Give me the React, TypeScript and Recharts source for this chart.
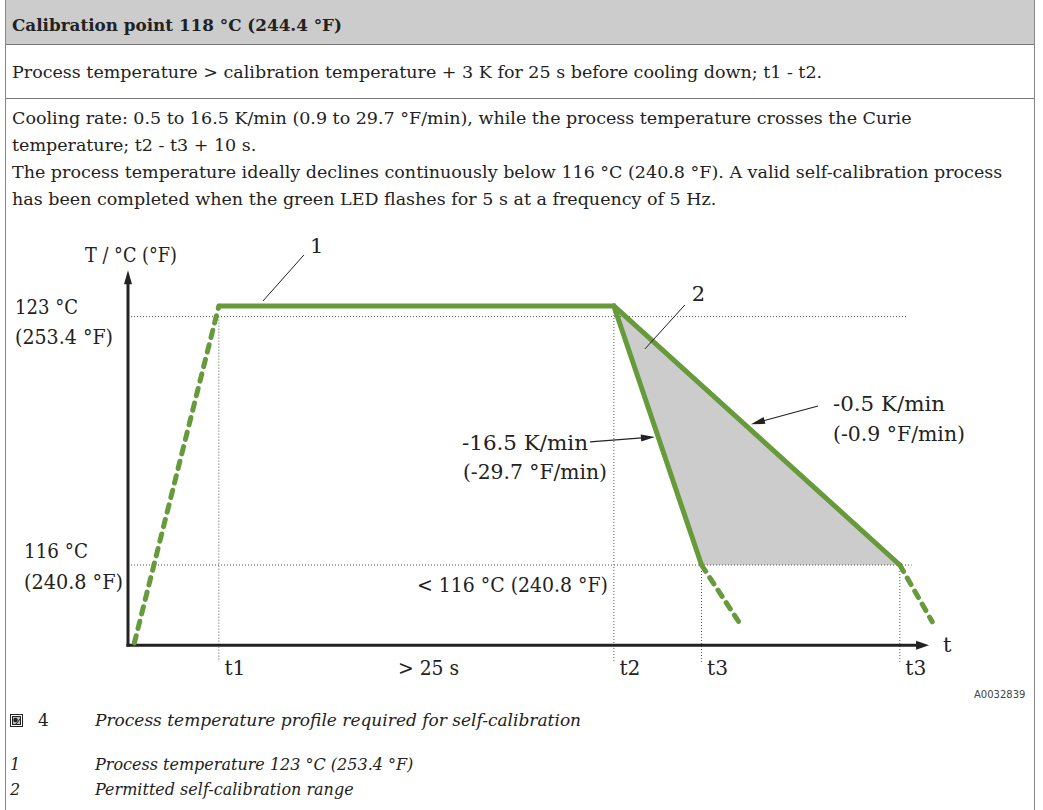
import React from 'react';
import { ComposedChart, Line, Area, XAxis, YAxis, ReferenceLine, ReferenceDot } from 'recharts';

const GREEN = '#669a3a';
const INK = '#222';
const DOT = '#555';
const SERIF = '"DejaVu Serif", "Liberation Serif", serif';

// time in s (arbitrary origin at the T axis), temperature in °C
const heatUp = [{ t: 0.4, T: 113.8 }, { t: 5.75, T: 123.3 }];
const holdThenFast = [{ t: 5.75, T: 123.3 }, { t: 30.75, T: 123.3 }, { t: 36.3, T: 116 }];
const slowCool = [{ t: 30.75, T: 123.3 }, { t: 48.85, T: 116 }];
const fastAfter = [{ t: 36.3, T: 116 }, { t: 38.8, T: 114.3 }];
const slowAfter = [{ t: 48.85, T: 116 }, { t: 50.9, T: 114.4 }];
const permitted = [
  { t: 30.75, band: [123.3, 123.3] },
  { t: 36.3, band: [116, 121.06] },
  { t: 48.85, band: [116, 116] },
];

const axisT = 113.74;
const axisTop = 124.31;
const axisEnd = 50.7;

const levels = [
  { T: 123, to: 49.35 },
  { T: 116, to: 49.6 },
];
const marks = [
  { name: 't1', t: 5.75, from: 123 },
  { name: 't2', t: 30.75, from: 123.3 },
  { name: 't3', t: 36.3, from: 116 },
  { name: 't3', t: 48.85, from: 116 },
];
const markBottom = 113.27;
const markLabelT = 113.1;

const notes = [
  { text: 'T / °C (°F)', t: -2.72, T: 124.74, w: 92 },
  { text: '123 °C', t: -7.15, T: 123.26, w: 63 },
  { text: '(253.4 °F)', t: -7.15, T: 122.43, w: 98 },
  { text: '116 °C', t: -6.58, T: 116.39, w: 64 },
  { text: '(240.8 °F)', t: -6.58, T: 115.52, w: 99 },
  { text: '1', t: 11.52, T: 125.0 },
  { text: '2', t: 35.68, T: 123.65 },
  { text: '< 116 °C (240.8 °F)', t: 18.29, T: 115.44, w: 191 },
  { text: '-16.5 K/min', t: 21.14, T: 119.44, w: 126 },
  { text: '(-29.7 °F/min)', t: 21.2, T: 118.62, w: 144 },
  { text: '-0.5 K/min', t: 44.62, T: 120.54, w: 112 },
  { text: '(-0.9 °F/min)', t: 44.62, T: 119.69, w: 132 },
  { text: '> 25 s', t: 17.09, T: markLabelT, w: 61 },
  { text: 't', t: 51.58, T: axisT },
];

const leaders = [
  { from: { t: 11.14, T: 124.74 }, to: { t: 8.54, T: 123.44 } },
  { from: { t: 35.25, T: 123.33 }, to: { t: 32.72, T: 122.09 } },
];
const pointers = [
  { from: { t: 29.24, T: 119.47 }, to: { t: 33.35, T: 119.61 } },
  { from: { t: 43.67, T: 120.48 }, to: { t: 39.43, T: 119.97 } },
];

const bodyLines = [
  'Cooling rate: 0.5 to 16.5 K/min (0.9 to 29.7 °F/min), while the process temperature crosses the Curie',
  'temperature; t2 - t3 + 10 s.',
  'The process temperature ideally declines continuously below 116 °C (240.8 °F). A valid self-calibration process',
  'has been completed when the green LED flashes for 5 s at a frequency of 5 Hz.',
];
const legendItems = [
  { key: '1', text: 'Process temperature 123 °C (253.4 °F)' },
  { key: '2', text: 'Permitted self-calibration range' },
];

const arrow = (width: number, len: number, half: number, cap: 'butt' | 'square') => (p: any) => {
  const { x1, y1, x2, y2 } = p;
  const a = Math.atan2(y2 - y1, x2 - x1);
  const c = Math.cos(a);
  const s = Math.sin(a);
  const bx = x2 - len * c;
  const by = y2 - len * s;
  const pts = `${x2},${y2} ${bx - half * s},${by + half * c} ${bx + half * s},${by - half * c}`;
  return (
    <g>
      <line x1={x1} y1={y1} x2={bx + c} y2={by + s} stroke={INK} strokeWidth={width} strokeLinecap={cap} />
      <polygon points={pts} fill={INK} />
    </g>
  );
};

const note = (text: string, w?: number) => (p: any) => (
  <text
    x={p.cx}
    y={p.cy}
    dominantBaseline="central"
    fontSize={21}
    fontFamily={SERIF}
    fill={INK}
    textLength={w}
    lengthAdjust={w ? 'spacingAndGlyphs' : undefined}
  >
    {text}
  </text>
);

function Profile() {
  return (
    <ComposedChart width={1043} height={450} margin={{ top: 5, right: 61.8, bottom: 5, left: 1.6 }}>
      <XAxis type="number" dataKey="t" domain={[-8, 54]} hide allowDataOverflow />
      <YAxis type="number" domain={[112.9, 125.3]} hide allowDataOverflow />

      <Area data={permitted} dataKey="band" type="linear" fill="#cccccc" fillOpacity={1} stroke="none" isAnimationActive={false} />

      {levels.map(l => (
        <ReferenceLine key={l.T} segment={[{ x: 0, y: l.T }, { x: l.to, y: l.T }]} stroke={DOT} strokeWidth={1} strokeDasharray="1 2" ifOverflow="visible" />
      ))}
      {marks.map(m => (
        <ReferenceLine key={m.t} segment={[{ x: m.t, y: m.from }, { x: m.t, y: markBottom }]} stroke={DOT} strokeWidth={1} strokeDasharray="1 2" ifOverflow="visible" />
      ))}

      <ReferenceLine segment={[{ x: 0, y: axisT }, { x: 0, y: axisTop }]} ifOverflow="visible" shape={arrow(3, 14, 4, 'square')} />
      <ReferenceLine segment={[{ x: 0, y: axisT }, { x: axisEnd, y: axisT }]} ifOverflow="visible" shape={arrow(3, 13, 4.5, 'square')} />

      <Line data={heatUp} dataKey="T" type="linear" stroke={GREEN} strokeWidth={5} strokeDasharray="7.5 7.5" strokeLinecap="round" dot={false} isAnimationActive={false} />
      <Line data={holdThenFast} dataKey="T" type="linear" stroke={GREEN} strokeWidth={5} strokeLinejoin="miter" dot={false} isAnimationActive={false} />
      <Line data={slowCool} dataKey="T" type="linear" stroke={GREEN} strokeWidth={5} strokeLinecap="round" dot={false} isAnimationActive={false} />
      <Line data={fastAfter} dataKey="T" type="linear" stroke={GREEN} strokeWidth={5} strokeDasharray="7.5 7.5" strokeLinecap="round" dot={false} isAnimationActive={false} />
      <Line data={slowAfter} dataKey="T" type="linear" stroke={GREEN} strokeWidth={5} strokeDasharray="7.5 7.5" strokeLinecap="round" dot={false} isAnimationActive={false} />

      {leaders.map((l, i) => (
        <ReferenceLine key={'ld' + i} segment={[{ x: l.from.t, y: l.from.T }, { x: l.to.t, y: l.to.T }]} stroke={INK} strokeWidth={1} ifOverflow="visible" />
      ))}
      {pointers.map((l, i) => (
        <ReferenceLine key={'pt' + i} segment={[{ x: l.from.t, y: l.from.T }, { x: l.to.t, y: l.to.T }]} ifOverflow="visible" shape={arrow(1.2, 14, 3.5, 'butt')} />
      ))}

      {notes.map((n, i) => (
        <ReferenceDot key={'n' + i} x={n.t} y={n.T} r={0} ifOverflow="visible" shape={note(n.text, n.w)} />
      ))}
      {marks.map((m, i) => (
        <ReferenceDot key={'m' + i} x={m.t + 0.35} y={markLabelT} r={0} ifOverflow="visible" shape={note(m.name, 21)} />
      ))}
    </ComposedChart>
  );
}

const line = (top: number, extra: React.CSSProperties = {}): React.CSSProperties => ({
  position: 'absolute', left: 12, top: top - 10, lineHeight: '20px', whiteSpace: 'nowrap', ...extra,
});

export default function App() {
  return (
    <div style={{ position: 'absolute', left: 0, top: 0, width: 1043, height: 810, background: '#fff', color: INK, fontFamily: SERIF, fontSize: 17.5, overflow: 'hidden' }}>
      <div style={{ position: 'absolute', left: 6, top: 0, width: 1028, height: 44, background: '#cccccc', borderBottom: '1px solid #777' }} />
      <div style={{ position: 'absolute', left: 6, top: 98, width: 1028, height: 0, borderBottom: '1px solid #777' }} />
      <div style={{ position: 'absolute', left: 5, top: 0, width: 1, height: 810, background: '#888' }} />
      <div style={{ position: 'absolute', left: 1034, top: 0, width: 1, height: 810, background: '#888' }} />

      <div style={line(25, { fontWeight: 'bold', fontSize: 16.8 })}>Calibration point 118 °C (244.4 °F)</div>
      <div style={line(72)}>Process temperature &gt; calibration temperature + 3 K for 25 s before cooling down; t1 - t2.</div>
      {bodyLines.map((t, i) => (
        <div key={i} style={line(118 + i * 27)}>{t}</div>
      ))}

      <div style={{ position: 'absolute', left: 0, top: 230 }}>
        <Profile />
      </div>

      <div style={{ position: 'absolute', left: 974, top: 689, fontFamily: '"DejaVu Sans", sans-serif', fontSize: 10, color: '#444', lineHeight: '12px' }}>A0032839</div>

      <svg style={{ position: 'absolute', left: 10, top: 714 }} width={13} height={13}>
        <rect x={0.5} y={0.5} width={12} height={12} fill="#fff" stroke={INK} />
        <rect x={2.5} y={2.5} width={8} height={8} fill="#bbb" stroke={INK} />
        <circle cx={5.5} cy={6} r={2.2} fill={INK} />
        <line x1={6} y1={10} x2={10} y2={5} stroke={INK} />
      </svg>
      <div style={{ position: 'absolute', left: 38, top: 710, lineHeight: '20px', fontSize: 17 }}>4</div>
      <div style={{ position: 'absolute', left: 95, top: 710, lineHeight: '20px', fontSize: 17, fontStyle: 'italic', whiteSpace: 'nowrap' }}>
        Process temperature profile required for self-calibration
      </div>
      {legendItems.map((it, i) => (
        <React.Fragment key={it.key}>
          <div style={{ position: 'absolute', left: 10, top: 755 + i * 25, lineHeight: '20px', fontSize: 16, fontStyle: 'italic' }}>{it.key}</div>
          <div style={{ position: 'absolute', left: 95, top: 755 + i * 25, lineHeight: '20px', fontSize: 16, fontStyle: 'italic', whiteSpace: 'nowrap' }}>{it.text}</div>
        </React.Fragment>
      ))}
    </div>
  );
}
